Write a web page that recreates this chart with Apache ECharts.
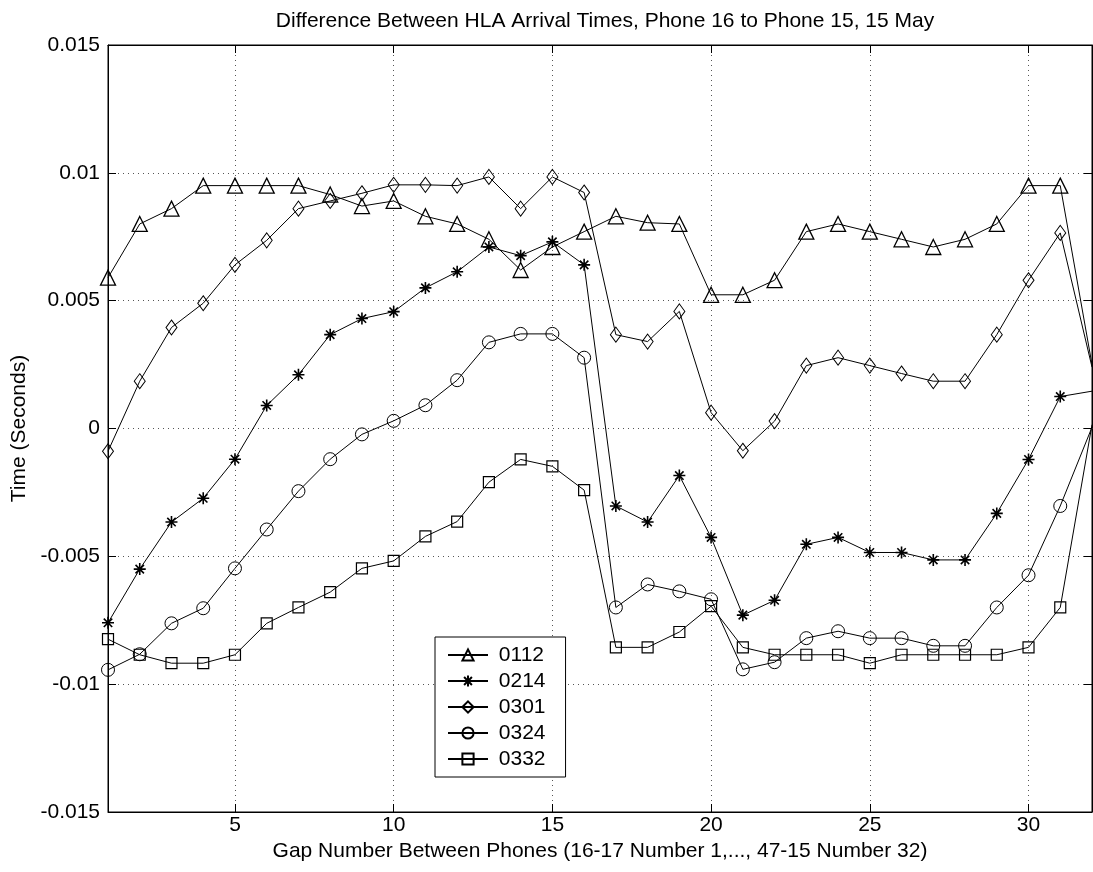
<!DOCTYPE html>
<html>
<head>
<meta charset="utf-8">
<script src="https://cdn.jsdelivr.net/npm/echarts@6/dist/echarts.min.js"></script>
<style>
  html, body { margin: 0; padding: 0; background: #fff; }
  #chart { width: 1093px; height: 872px; }
</style>
</head>
<body>
<div id="chart"></div>
<script>
// gap number (x)
const gapNumbers = [1,2,3,4,5,6,7,8,9,10,11,12,13,14,15,16,17,18,19,20,21,22,23,24,25,26,27,28,29,30,31,32];
const xTicks = [5, 10, 15, 20, 25, 30];

// time differences, seconds
const s0112 = [0.0059,0.0080,0.0086,0.0095,0.0095,0.0095,0.0095,0.00915,0.0087,0.0089,0.0083,0.0080,0.0074,0.0062,0.0071,0.0077,0.0083,0.00805,0.0080,0.00523,0.00523,0.0058,0.0077,0.0080,0.0077,0.0074,0.0071,0.0074,0.0080,0.0095,0.0095,0.0025];
const s0214 = [-0.0076,-0.0055,-0.00366,-0.00273,-0.0012,0.0009,0.0021,0.00367,0.0043,0.00457,0.0055,0.00613,0.0071,0.00676,0.0073,0.0064,-0.00303,-0.00366,-0.00184,-0.00426,-0.0073,-0.00672,-0.00453,-0.00426,-0.00485,-0.00485,-0.00514,-0.00514,-0.00332,-0.00121,0.00125,0.00146];
const s0301 = [-0.00089,0.00185,0.00395,0.0049,0.0064,0.00736,0.0086,0.0089,0.0092,0.00953,0.00953,0.0095,0.00984,0.0086,0.00984,0.00923,0.00367,0.0034,0.00458,0.00062,-0.00087,0.00029,0.00246,0.00277,0.00246,0.00215,0.00185,0.00185,0.00367,0.0058,0.00765,0.0024];
const s0324 = [-0.00944,-0.00883,-0.00762,-0.00703,-0.00547,-0.00395,-0.00245,-0.0012,-0.00023,0.0003,0.00091,0.00189,0.00337,0.0037,0.0037,0.00277,-0.0070,-0.0061,-0.00637,-0.00668,-0.00942,-0.00914,-0.0082,-0.00793,-0.0082,-0.0082,-0.0085,-0.0085,-0.0070,-0.00574,-0.00303,0.00005];
const s0332 = [-0.00824,-0.00885,-0.00918,-0.00918,-0.00885,-0.00762,-0.0070,-0.0064,-0.00547,-0.00518,-0.00422,-0.00364,-0.0021,-0.00121,-0.00148,-0.00241,-0.00856,-0.00856,-0.00796,-0.00695,-0.00856,-0.00885,-0.00885,-0.00885,-0.00918,-0.00885,-0.00885,-0.00885,-0.00885,-0.00856,-0.0070,0.00015];

const asterisk = 'path://M0,-10L0,10M-10,0L10,0M-7,-7L7,7M-7,7L7,-7';
const FONT = 'Liberation Sans, Arial, sans-serif';

function mkSeries(name, vals, symbol, size, bw) {
  return {
    name: name,
    type: 'line',
    symbol: symbol,
    symbolSize: size,
    showAllSymbol: true,
    color: '#000',
    lineStyle: { color: '#000', width: 1 },
    itemStyle: { color: 'rgba(255,255,255,0)', borderColor: '#000', borderWidth: bw },
    emphasis: { disabled: true },
    data: vals.map(function (v, i) {
      const item = { value: [gapNumbers[i], v] };
      // last point sits on the right border, marker clipped away
      if (i === vals.length - 1) item.symbol = 'none';
      return item;
    })
  };
}

const chart = echarts.init(document.getElementById('chart'));
chart.setOption({
  backgroundColor: '#fff',
  animation: false,
  title: {
    text: 'Difference Between HLA Arrival Times, Phone 16 to Phone 15, 15 May',
    left: 600, top: 6, textAlign: 'center',
    textStyle: { fontFamily: FONT, fontSize: 21, fontWeight: 'normal', color: '#000' }
  },
  grid: { left: 108, right: 1, top: 45, bottom: 60, show: true, borderColor: '#000', borderWidth: 1 },
  legend: {
    orient: 'vertical', left: 435, top: 637,
    data: ['0112', '0214', '0301', '0324', '0332'],
    itemWidth: 40, itemHeight: 14, itemGap: 4,
    formatter: function (n) { return ' ' + n; },
    backgroundColor: '#fff', borderColor: '#000', borderWidth: 1,
    padding: [7, 20, 7, 12],
    textStyle: { fontFamily: FONT, fontSize: 21, lineHeight: 22, color: '#000' }
  },
  xAxis: [{
    type: 'value', min: 1, max: 32,
    name: 'Gap Number Between Phones (16-17 Number 1,..., 47-15 Number 32)',
    nameLocation: 'middle', nameGap: 25,
    nameTextStyle: { fontFamily: FONT, fontSize: 21, color: '#000' },
    axisLine: { onZero: false, lineStyle: { color: '#000' } },
    axisTick: { inside: true, length: 8, customValues: xTicks, lineStyle: { color: '#000' } },
    axisLabel: { customValues: xTicks, fontFamily: FONT, fontSize: 21, color: '#000', margin: 3 },
    splitLine: { show: true, lineStyle: { color: '#555', type: [1, 4] } }
  }, {
    type: 'value', min: 1, max: 32, position: 'top',
    axisLine: { onZero: false, lineStyle: { color: '#000' } },
    axisTick: { inside: true, length: 8, customValues: xTicks, lineStyle: { color: '#000' } },
    axisLabel: { show: false },
    splitLine: { show: false }
  }],
  yAxis: [{
    type: 'value', min: -0.015, max: 0.015, interval: 0.005,
    name: 'Time (Seconds)',
    nameLocation: 'middle', nameGap: 78,
    nameTextStyle: { fontFamily: FONT, fontSize: 21, color: '#000' },
    axisLine: { show: true, onZero: false, lineStyle: { color: '#000' } },
    axisTick: { show: true, inside: true, length: 8, lineStyle: { color: '#000' } },
    axisLabel: {
      fontFamily: FONT, fontSize: 21, color: '#000', margin: 8,
      formatter: function (v) { return String(+v.toFixed(3)); }
    },
    splitLine: { show: true, lineStyle: { color: '#555', type: [1, 4] } }
  }, {
    type: 'value', min: -0.015, max: 0.015, interval: 0.005, position: 'right',
    axisLine: { show: true, onZero: false, lineStyle: { color: '#000' } },
    axisTick: { show: true, inside: true, length: 8, lineStyle: { color: '#000' } },
    axisLabel: { show: false },
    splitLine: { show: false }
  }],
  series: [
    mkSeries('0112', s0112, 'triangle', 15, 1.3),
    mkSeries('0214', s0214, asterisk, 12, 1.6),
    mkSeries('0301', s0301, 'diamond', [11, 15], 1),
    mkSeries('0324', s0324, 'circle', 13, 1),
    mkSeries('0332', s0332, 'rect', 11, 1.2)
  ]
});
</script>
</body>
</html>
